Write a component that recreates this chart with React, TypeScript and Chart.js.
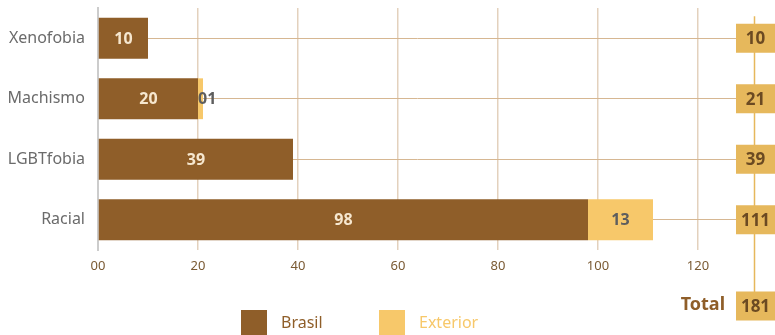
import React, { useEffect, useRef } from "react";
import { Chart, registerables } from "chart.js";

Chart.register(...registerables);

const categories = ["Xenofobia", "Machismo", "LGBTfobia", "Racial"];
const brasil = [10, 20, 39, 98];
const exterior = [0, 1, 0, 13];
const xTicks = [0, 20, 40, 60, 80, 100, 120];
const seriesNames = ["Brasil", "Exterior"];
const totalLabel = "Total";

const BROWN = "#8f5e29";
const YELLOW = "#f7c86a";
const GOLD = "#e6b85c";
const FONT = "'Noto Sans', sans-serif";

const pad2 = (v: number) => (v < 10 ? "0" + v : String(v));

const overlay = {
  id: "overlay",
  afterDatasetsDraw(chart: any) {
    const ctx = chart.ctx;
    ctx.save();
    ctx.textBaseline = "middle";
    ctx.textAlign = "center";
    ctx.font = `bold 16px ${FONT}`;
    chart.data.datasets.forEach((ds: any, di: number) => {
      const meta = chart.getDatasetMeta(di);
      meta.data.forEach((bar: any, i: number) => {
        const v = ds.data[i];
        if (!v) return;
        const left = Math.min(bar.x, bar.base);
        const right = Math.max(bar.x, bar.base);
        const txt = pad2(v);
        const w = ctx.measureText(txt).width;
        let cx = (left + right) / 2;
        if (w > right - left) cx = left + w / 2;
        ctx.fillStyle = di === 0 ? "#f6e7cf" : "#5e5e5e";
        ctx.fillText(txt, cx, bar.y + 1);
      });
    });
    ctx.restore();
  },
  afterDraw(chart: any) {
    const ctx = chart.ctx;
    const ys = chart.scales.y;
    const area = chart.chartArea;
    const boxL = area.right;
    const boxW = 39;
    const boxH = 29;
    const lineX = boxL + 18.5;
    const totalY = area.bottom + 55;
    ctx.save();
    const firstY = ys.getPixelForValue(0);
    ctx.strokeStyle = GOLD;
    ctx.lineWidth = 1.5;
    ctx.beginPath();
    ctx.moveTo(lineX, firstY - 22);
    ctx.lineTo(lineX, totalY);
    ctx.stroke();
    ctx.textAlign = "center";
    ctx.textBaseline = "middle";
    ctx.font = `bold 17px ${FONT}`;
    let grand = 0;
    categories.forEach((_, i) => {
      const t = brasil[i] + exterior[i];
      grand += t;
      const y = ys.getPixelForValue(i);
      ctx.fillStyle = GOLD;
      ctx.fillRect(boxL, y - boxH / 2, boxW, boxH);
      ctx.fillStyle = "#6b4a22";
      ctx.fillText(String(t), boxL + boxW / 2, y + 1);
    });
    ctx.fillStyle = GOLD;
    ctx.fillRect(boxL, totalY - boxH / 2 + 1, boxW, boxH);
    ctx.fillStyle = "#6b4a22";
    ctx.fillText(String(grand), boxL + boxW / 2, totalY + 2);
    ctx.font = `bold 18px ${FONT}`;
    ctx.fillStyle = BROWN;
    ctx.textAlign = "right";
    ctx.fillText(totalLabel, boxL - 11, totalY);
    const legendX = [241, 379];
    const colors = [BROWN, YELLOW];
    ctx.font = `16px ${FONT}`;
    ctx.textAlign = "left";
    seriesNames.forEach((n, i) => {
      ctx.fillStyle = colors[i];
      ctx.fillRect(legendX[i], 310, 26, 26);
      ctx.fillText(n, legendX[i] + 40, 323);
    });
    ctx.restore();
  },
};

export default function App() {
  const ref = useRef<HTMLCanvasElement>(null);
  useEffect(() => {
    const chart = new Chart(ref.current!, {
      type: "bar",
      data: {
        labels: categories,
        datasets: [
          { label: seriesNames[0], data: brasil, backgroundColor: BROWN, categoryPercentage: 1, barPercentage: 0.675 },
          { label: seriesNames[1], data: exterior, backgroundColor: YELLOW, categoryPercentage: 1, barPercentage: 0.675 },
        ],
      },
      options: {
        indexAxis: "y",
        responsive: false,
        animation: false,
        layout: { padding: { top: 8, right: 39, left: 0, bottom: 0 } },
        plugins: { legend: { display: false }, tooltip: { enabled: false } },
        scales: {
          x: {
            stacked: true,
            min: 0,
            max: 127.6,
            afterBuildTicks: (s: any) => {
              s.ticks = xTicks.map((v) => ({ value: v }));
            },
            afterFit: (s: any) => {
              s.height = 85;
              s.paddingLeft = 0;
              s.paddingRight = 0;
            },
            grid: { color: "#e3d1bd", lineWidth: 1.5, drawTicks: false },
            border: { display: false },
            ticks: {
              padding: 8,
              color: "#7a5a33",
              font: { family: FONT, size: 13 },
              callback: (v: any) => pad2(Number(v)),
            },
          },
          y: {
            stacked: true,
            afterFit: (s: any) => {
              s.width = 98;
              s.paddingTop = 0;
              s.paddingBottom = 0;
            },
            grid: { offset: false, color: "#d6b792", lineWidth: 1, drawTicks: false },
            border: { color: "#cccccc", width: 2 },
            ticks: { padding: 13, color: "#6b6b6b", font: { family: FONT, size: 16 } },
          },
        },
      },
      plugins: [overlay],
    });
    return () => chart.destroy();
  }, []);
  return (
    <div style={{ position: "fixed", left: 0, top: 0, width: 775, height: 335, background: "#fff" }}>
      <canvas ref={ref} width={775} height={335} />
    </div>
  );
}
